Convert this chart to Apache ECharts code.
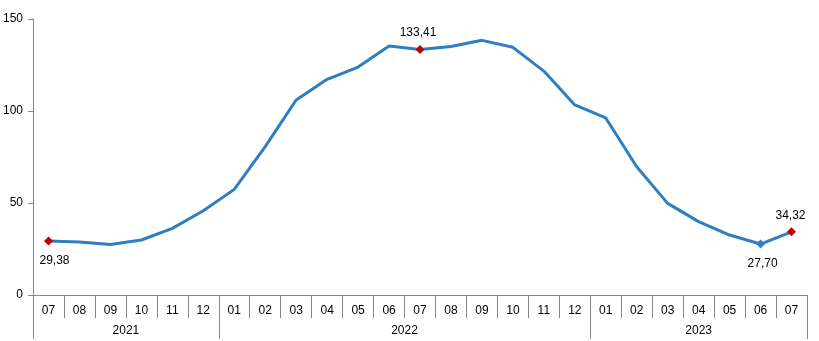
<!DOCTYPE html>
<html>
<head>
<meta charset="utf-8">
<script src="https://cdn.jsdelivr.net/npm/echarts@6/dist/echarts.min.js"></script>
<style>html,body{margin:0;padding:0;background:#fff}#c{width:819px;height:341px}</style>
</head>
<body>
<div id="c"></div>
<script>
var months = ['07','08','09','10','11','12','01','02','03','04','05','06','07','08','09','10','11','12','01','02','03','04','05','06','07'];
var values = [29.38,28.8,27.5,29.9,36.2,45.8,57.4,80.6,106.0,117.2,123.9,135.3,133.41,135.1,138.4,134.6,121.7,103.3,96.2,69.7,49.8,39.9,32.6,27.70,34.32];
var years = ['2021','2022','2023'];
var yearLabelPos = [3, 12, 21.5];
var yearBounds = [0, 6, 18, 25];
var yTicks = [0, 50, 100, 150];
// highlighted points: index -> [color, label position, x offset]
var highlights = {0:['#c00000','bottom',6],12:['#c00000','top',-2],23:['#2e7fc1','bottom',2],24:['#c00000','top',-1]};

var fmt = function(v){ return v.toFixed(2).replace('.', ','); };
var seriesData = values.map(function(v, i){
  var h = highlights[i];
  if (!h) return {value: v};
  return {
    value: v,
    symbol: 'diamond', symbolSize: 9,
    itemStyle: {color: h[0]},
    label: {show: true, position: h[1], distance: h[1] === 'top' ? 6 : 9, offset: [h[2], 0],
      formatter: fmt(v), color: '#000', fontSize: 12, fontFamily: 'Liberation Sans, Arial'}
  };
});

var chart = echarts.init(document.getElementById('c'));
var font = 'Liberation Sans, Arial';
chart.setOption({
  animation: false,
  grid: {left: 33, right: 12, top: 19, bottom: 46, containLabel: false},
  xAxis: [{
    type: 'category', data: months, boundaryGap: true, position: 'bottom',
    axisLine: {show: true, lineStyle: {color: '#888', width: 1}},
    axisTick: {show: true, interval: 0, length: 23, lineStyle: {color: '#888'}},
    axisLabel: {interval: 0, margin: 10, color: '#000', fontSize: 12, fontFamily: font}
  }, {
    type: 'value', min: 0, max: 25, position: 'bottom',
    axisLine: {show: false},
    splitLine: {show: false},
    axisTick: {show: true, customValues: yearBounds, length: 44, lineStyle: {color: '#888'}},
    axisLabel: {customValues: yearLabelPos, margin: 30, color: '#000', fontSize: 12, fontFamily: font,
      formatter: function(v){ var i = yearLabelPos.indexOf(v); return i >= 0 ? years[i] : ''; }}
  }],
  yAxis: {
    type: 'value', min: 0, max: 150, interval: 50,
    axisLine: {show: true, lineStyle: {color: '#888'}},
    axisTick: {show: true, length: 5, lineStyle: {color: '#888'}},
    splitLine: {show: false},
    axisLabel: {margin: 10, color: '#000', fontSize: 12, fontFamily: font,
      formatter: function(v){ return yTicks.indexOf(v) >= 0 ? String(v) : ''; }}
  },
  series: [{
    type: 'line', xAxisIndex: 0, data: seriesData,
    showSymbol: true, symbol: 'none',
    lineStyle: {color: '#2e7fc1', width: 3},
    itemStyle: {color: '#2e7fc1'},
    emphasis: {disabled: true}
  }]
});
</script>
</body>
</html>
